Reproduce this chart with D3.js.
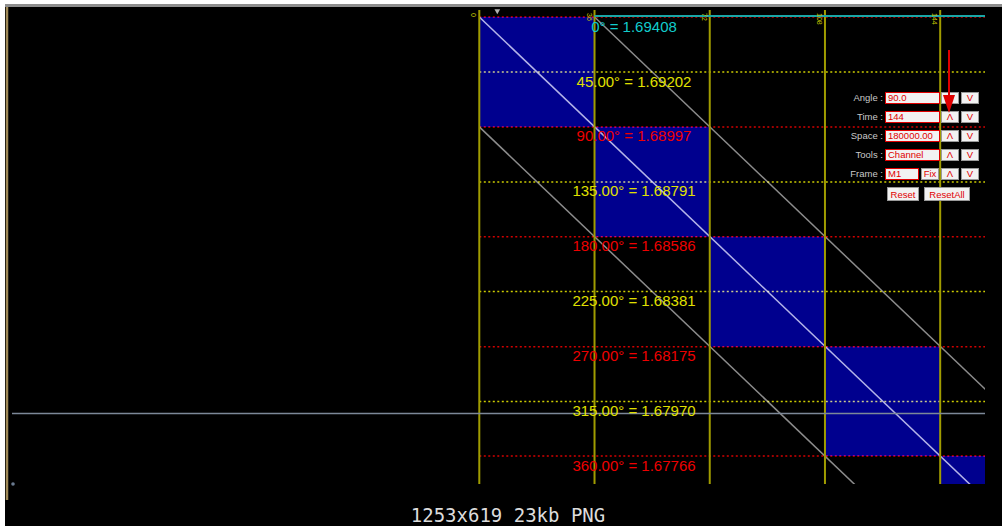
<!DOCTYPE html>
<html><head><meta charset="utf-8">
<script src="https://cdn.jsdelivr.net/npm/d3@7"></script>
<style>
html,body{margin:0;padding:0;background:#000;}
svg{display:block;}
</style></head>
<body>
<svg id="chart" width="1002" height="526"></svg>
<script>
// ---- data ----
const times = [0, 36, 72, 108, 144];
const timeLabels = ["0", "36", "72", "108", "144"];
const viewTime = [-146, 158];
const angles = [0, 45, 90, 135, 180, 225, 270, 315, 360];
const prices = [1.69408, 1.69202, 1.68997, 1.68791, 1.68586, 1.68381, 1.68175, 1.67970, 1.67766];
const currentPrice = 1.67925;
const panelLabels = ["Angle :", "Time :", "Space :", "Tools :", "Frame :"];
const panelValues = ["90.0", "144", "180000.00", "Channel", "M1"];
const caption = "1253x619 23kb PNG";

// ---- layout ----
const W = 1002, H = 526;
const svg = d3.select("#chart");
const x = d3.scaleLinear().domain(viewTime).range([12, 985]);
const y = d3.scaleLinear().domain([prices[0], prices[prices.length - 1]]).range([17, 456]);
const plotBottom = 484;
const gannLeft = x(times[0]), gannRight = x(viewTime[1]);

// frame
svg.append("rect").attr("width", W).attr("height", H).attr("fill", "#000");
svg.append("rect").attr("x", 0).attr("y", 0).attr("width", W).attr("height", 4).attr("fill", "#fff");
svg.append("rect").attr("x", 0).attr("y", 0).attr("width", 5).attr("height", H).attr("fill", "#fff");
svg.append("rect").attr("x", 5).attr("y", 4).attr("width", W - 5).attr("height", 3).attr("fill", "#8e8e8e");
svg.append("line").attr("x1", 7).attr("x2", 7).attr("y1", 7).attr("y2", 500)
  .attr("stroke", "#a08a58").attr("stroke-width", 2.5);

svg.append("defs").append("clipPath").attr("id", "gclip")
  .append("rect").attr("x", gannLeft).attr("y", 0)
  .attr("width", gannRight - gannLeft).attr("height", plotBottom);

const g = svg.append("g").attr("clip-path", "url(#gclip)");

// blue cells along the diagonal
const cells = times.map((t, i) => ({
  t0: t,
  t1: i + 1 < times.length ? times[i + 1] : viewTime[1],
  p0: prices[2 * i],
  p1: 2 * i + 2 < prices.length ? prices[2 * i + 2] : null
}));
g.selectAll("rect.cell").data(cells).join("rect").attr("class", "cell")
  .attr("x", d => x(d.t0)).attr("width", d => x(d.t1) - x(d.t0))
  .attr("y", d => y(d.p0))
  .attr("height", d => (d.p1 === null ? plotBottom : y(d.p1)) - y(d.p0))
  .attr("fill", "#00008e");

// vertical time lines
svg.selectAll("line.vt").data(times).join("line").attr("class", "vt")
  .attr("x1", d => x(d)).attr("x2", d => x(d))
  .attr("y1", y(prices[0]) - 7).attr("y2", plotBottom)
  .attr("stroke", "#a09c00").attr("stroke-width", 2);

// horizontal dotted angle levels
const lvlColor = i => i === 0 ? "#d00000" : (i % 2 ? "#cccc00" : "#d40000");
g.selectAll("line.lvl").data(prices).join("line").attr("class", "lvl")
  .attr("x1", gannLeft).attr("x2", gannRight)
  .attr("y1", d => y(d)).attr("y2", d => y(d))
  .attr("stroke", (d, i) => lvlColor(i)).attr("stroke-width", 1.5)
  .attr("stroke-dasharray", "2,2.5")
  .style("mix-blend-mode", "screen");

// diagonals
const slope = (y(prices[8]) - y(prices[0])) / (x(times[4]) - x(times[0]));
const diags = [
  {t: times[1], p: prices[0], c: "#8c8c8c"},
  {t: times[0], p: prices[2], c: "#8c8c8c"},
  {t: times[0], p: prices[0], c: "#b4b4cc"}
];
g.selectAll("line.diag").data(diags).join("line").attr("class", "diag")
  .attr("x1", d => x(d.t)).attr("y1", d => y(d.p))
  .attr("x2", d => x(d.t) + 600).attr("y2", d => y(d.p) + 600 * slope)
  .attr("stroke", d => d.c).attr("stroke-width", 1.5)
  .style("mix-blend-mode", "screen");

// cyan 0° line
svg.append("line").attr("x1", x(times[1])).attr("x2", gannRight)
  .attr("y1", y(prices[0]) - 1).attr("y2", y(prices[0]) - 1)
  .attr("stroke", "#1aa6a6").attr("stroke-width", 2);

// current price line
svg.append("line").attr("x1", x(viewTime[0])).attr("x2", gannRight)
  .attr("y1", y(currentPrice)).attr("y2", y(currentPrice))
  .attr("stroke", "#7c8898").attr("stroke-width", 1.5);
svg.append("circle").attr("cx", x(viewTime[0]) + 1).attr("cy", plotBottom).attr("r", 1.8).attr("fill", "#6a7a90");

// time labels (rotated)
svg.selectAll("text.tl").data(times).join("text").attr("class", "tl")
  .attr("transform", d => `translate(${x(d) - 8},${y(prices[0]) - 4}) rotate(90)`)
  .attr("font-family", "Liberation Sans, Arial, sans-serif").attr("font-size", 7)
  .attr("fill", "#c8c800").text((d, i) => timeLabels[i]);

// small marker
svg.append("path").attr("d", d3.symbol(d3.symbolTriangle, 14)())
  .attr("transform", `translate(${x(times[0]) + 18},11) rotate(180)`).attr("fill", "#b0b0b0");

// angle labels
const labelX = 634;
const txtColor = i => i === 0 ? "#12cccc" : (i % 2 ? "#e0e000" : "#ee0000");
svg.selectAll("text.al").data(angles).join("text").attr("class", "al")
  .attr("x", labelX).attr("y", (d, i) => y(prices[i]) + 14.5)
  .attr("text-anchor", "middle")
  .attr("font-family", "Liberation Sans, Arial, sans-serif").attr("font-size", 15)
  .attr("fill", (d, i) => txtColor(i))
  .text((d, i) => (d === 0 ? "0" : d.toFixed(2)) + "° = " + prices[i].toFixed(5));

// control panel
const panel = svg.append("g").attr("font-family", "Liberation Sans, Arial, sans-serif").attr("font-size", 9.5);
const rowTop = i => 92 + i * 19;
panel.selectAll("text.pl").data(panelLabels).join("text").attr("class", "pl")
  .attr("x", 883).attr("y", (d, i) => rowTop(i) + 9).attr("text-anchor", "end")
  .attr("fill", "#c8c8c8").text(d => d);
function box(px, py, w, h, txt, stroke, anchor) {
  panel.append("rect").attr("x", px + 0.5).attr("y", py + 0.5).attr("width", w).attr("height", h)
    .attr("fill", "#f2f2f2").attr("stroke", stroke).attr("stroke-width", 1);
  panel.append("text").attr("x", anchor === "middle" ? px + w / 2 + 0.5 : px + 3).attr("y", py + h - 2)
    .attr("text-anchor", anchor).attr("fill", "#e00000").text(txt);
}
panelValues.forEach((v, i) => {
  const w = i === 4 ? 33 : 54;
  box(885, rowTop(i), w, 11, v, "#e00000", "start");
  if (i === 4) box(921, rowTop(i), 17, 11, "Fix", "#999", "middle");
  box(941, rowTop(i), 17, 11, "Λ", "#999", "middle");
  box(961, rowTop(i), 17, 11, "V", "#999", "middle");
});
box(887, rowTop(5), 31, 13, "Reset", "#999", "middle");
box(924, rowTop(5), 45, 13, "ResetAll", "#999", "middle");

// red arrow
svg.append("line").attr("x1", 949).attr("x2", 949).attr("y1", 50).attr("y2", 100)
  .attr("stroke", "#e00000").attr("stroke-width", 2);
svg.append("path").attr("d", "M943,95 L955,95 L949,113 Z").attr("fill", "#e00000");

// caption
svg.append("text").attr("x", 508).attr("y", 522).attr("text-anchor", "middle")
  .attr("font-family", "DejaVu Sans Mono, monospace").attr("font-size", 19)
  .attr("fill", "#dcdcdc").text(caption);
</script>
</body></html>
